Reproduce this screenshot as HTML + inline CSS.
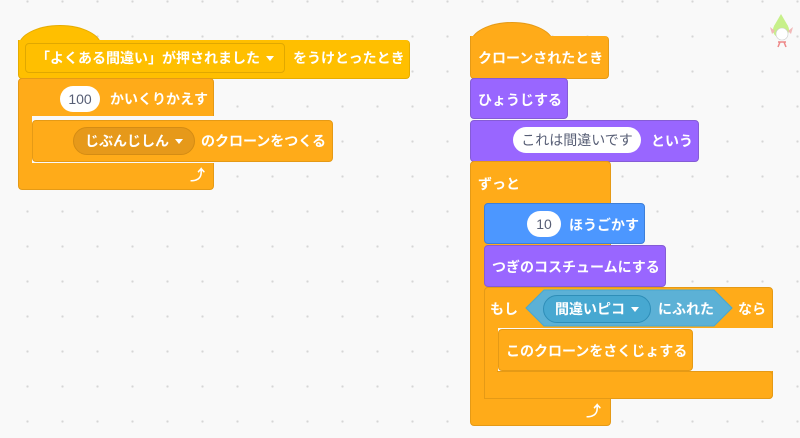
<!DOCTYPE html>
<html><head><meta charset="utf-8"><style>
html,body{margin:0;padding:0}
body{width:800px;height:438px;overflow:hidden;position:relative;background-color:#f9f9f9;
background-image:radial-gradient(circle,#d6d6d6 1px,transparent 1.3px);background-size:35px 35px;background-position:10px 19px;
font-family:"Liberation Sans","Noto Sans CJK JP",sans-serif;}
.b{position:absolute;border-radius:4px;box-sizing:border-box}
.t{position:absolute;color:#fff;font-size:14px;font-weight:bold;white-space:nowrap;line-height:16px}
.ov{position:absolute;background:#fff;border-radius:14px;color:#575e75;font-size:14px;text-align:center;line-height:26px;white-space:nowrap}
.ev{background:#ffbf00;border:1px solid #e6ac00}
.co{background:#ffab19;border:1px solid #e59a16}
.lo{background:#9966ff;border:1px solid #855cd6}
.mo{background:#4c97ff;border:1px solid #3d7fd9}
.tri{display:inline-block;width:0;height:0;border-left:4px solid transparent;border-right:4px solid transparent;border-top:5px solid #fff;margin-left:6px;vertical-align:2px}
</style></head><body>
<!-- left script -->
<div class="b ev" style="left:18px;top:25px;width:84px;height:30px;border-radius:42px 42px 0 0/22px 22px 0 0;border-bottom:none"></div>
<div class="b ev" style="left:18px;top:40px;width:392px;height:39px;border-radius:0 4px 4px 4px;border-top:none"></div>
<div class="b" style="left:25px;top:43px;width:260px;height:30px;background:#ffbf00;border:1px solid #e0a800;border-radius:4px"></div>
<div class="t" style="left:36px;top:50px">「よくある間違い」が押されました<span class="tri"></span></div>
<div class="t" style="left:293px;top:50px">をうけとったとき</div>

<div class="b co" style="left:18px;top:78px;width:196px;height:112px"></div>
<div class="b" style="left:32px;top:116px;width:182px;height:47px;background:#f9f9f9;border:none;border-radius:0"></div>
<div class="ov" style="left:60px;top:86px;width:40px">100</div>
<div class="t" style="left:110px;top:91px">かいくりかえす</div>
<div class="b co" style="left:32px;top:120px;width:301px;height:42px"></div>
<div class="ov" style="left:73px;top:127px;width:120px;background:#e6991a;color:#fff;font-weight:bold;border:1px solid #d48c14">じぶんじしん<span class="tri"></span></div>
<div class="t" style="left:201px;top:133px">のクローンをつくる</div>
<div class="t" style="left:190px;top:168px;font-size:15px">⤴</div>

<!-- right script -->
<div class="b co" style="left:470px;top:22px;width:84px;height:30px;border-radius:42px 42px 0 0/22px 22px 0 0;border-bottom:none"></div>
<div class="b co" style="left:470px;top:36px;width:139px;height:43px;border-radius:0 4px 4px 4px;border-top:none"></div>
<div class="t" style="left:478px;top:50px">クローンされたとき</div>
<div class="b lo" style="left:470px;top:78px;width:98px;height:41px"></div>
<div class="t" style="left:478px;top:92px">ひょうじする</div>
<div class="b lo" style="left:470px;top:120px;width:229px;height:42px"></div>
<div class="ov" style="left:513px;top:127px;width:128px">これは間違いです</div>
<div class="t" style="left:651px;top:133px">という</div>

<div class="b co" style="left:470px;top:161px;width:141px;height:265px"></div>
<div class="t" style="left:478px;top:176px">ずっと</div>
<div class="b mo" style="left:484px;top:203px;width:161px;height:41px"></div>
<div class="ov" style="left:527px;top:211px;width:34px">10</div>
<div class="t" style="left:569px;top:217px">ほうごかす</div>
<div class="b lo" style="left:484px;top:245px;width:182px;height:42px"></div>
<div class="t" style="left:492px;top:259px">つぎのコスチュームにする</div>
<div class="b co" style="left:484px;top:287px;width:289px;height:112px"></div>
<div class="b" style="left:498px;top:328px;width:275px;height:43px;background:#f9f9f9;border:none;border-radius:0"></div>
<div class="b co" style="left:498px;top:329px;width:195px;height:42px"></div>
<div class="t" style="left:506px;top:343px">このクローンをさくじょする</div>
<div class="b co" style="left:484px;top:371px;width:289px;height:28px;border-radius:0 4px 4px 0"></div>
<div class="b" style="left:485px;top:365px;width:12px;height:10px;background:#ffab19;border-radius:0"></div>
<div class="t" style="left:490px;top:301px">もし</div>
<svg style="position:absolute;left:525px;top:289px" width="208" height="38"><polygon points="1,19 19,1 189,1 207,19 189,37 19,37" fill="#5cb1d6" stroke="#47a8d1"/></svg>
<div class="ov" style="left:543px;top:295px;width:106px;background:#47a8d1;color:#fff;font-weight:bold;border:1px solid #2e8eb8">間違いピコ<span class="tri"></span></div>
<div class="t" style="left:658px;top:301px">にふれた</div>
<div class="t" style="left:738px;top:301px">なら</div>
<div class="t" style="left:586px;top:404px;font-size:15px">⤴</div>

<!-- sprite -->
<svg style="position:absolute;left:764px;top:12px" width="34" height="38">
<path d="M17 2 L24 14 L10 14 Z" fill="#c7f08a"/><circle cx="17" cy="18" r="8" fill="#c7f08a"/>
<circle cx="18" cy="22" r="6" fill="#fff" stroke="#ccc" stroke-width="0.6"/>
<path d="M6 15 L11 19 L8 22Z M29 15 L24 19 L27 22Z" fill="#f2b8b8"/>
<path d="M14 30 L22 30 M16 30 L14 35 M20 30 L22 35" stroke="#e88" stroke-width="1.5"/>
</svg>
</body></html>
